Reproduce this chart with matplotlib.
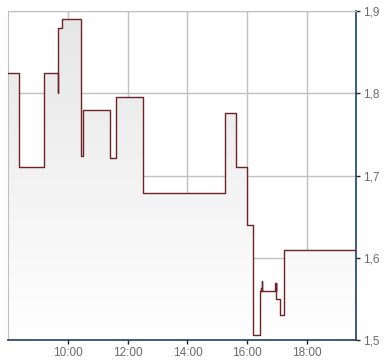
import matplotlib
matplotlib.use("Agg")
import matplotlib.pyplot as plt
import numpy as np
from matplotlib.colors import LinearSegmentedColormap

times = ["08:00", "08:23", "09:13", "09:41", "09:41", "09:49", "10:27", "10:30",
         "11:25", "11:36", "12:31", "15:15", "15:37", "16:00", "16:11", "16:25",
         "16:27", "16:28", "16:29", "16:29", "16:56", "16:57", "16:57", "16:58",
         "17:06", "17:13", "19:40"]
prices = [1.825, 1.710, 1.825, 1.800, 1.879, 1.890, 1.724, 1.780,
          1.721, 1.795, 1.679, 1.776, 1.710, 1.640, 1.506, 1.560,
          1.563, 1.560, 1.572, 1.560, 1.569, 1.560, 1.569, 1.550,
          1.531, 1.609, 1.609]
xtick_labels = ["10:00", "12:00", "14:00", "16:00", "18:00"]
ytick_values = [1.5, 1.6, 1.7, 1.8, 1.9]
ytick_labels = ["1,5", "1,6", "1,7", "1,8", "1,9"]

def to_h(s):
    h, m = s.split(":")
    return int(h) + int(m) / 60.0

x = np.array([to_h(t) for t in times])
y = np.array(prices)

W, H = 390, 364
fig = plt.figure(figsize=(W / 100, H / 100), dpi=100)
ax = fig.add_axes([8 / W, (H - 340) / H, (356 - 8) / W, (340 - 11) / H])

xmin, xmax = 8.0, to_h("19:38")
ymin, ymax = 1.5, 1.9
ax.set_xlim(xmin, xmax)
ax.set_ylim(ymin, ymax)

# gradient fill under the step line
poly = ax.fill_between(x, y, ymin, step="post", color="none", lw=0)
grad = np.linspace(0, 1, 256).reshape(-1, 1)
cmap = LinearSegmentedColormap.from_list("g", ["#e6e6e6", "#ffffff"])
im = ax.imshow(grad, extent=[xmin, xmax, ymin, ymax], origin="upper",
               aspect="auto", cmap=cmap, zorder=1)
im.set_clip_path(poly.get_paths()[0], transform=ax.transData)

ax.step(x, y, where="post", color="#6e2228", lw=1.0, zorder=3)

ax.set_xticks([to_h(t) for t in xtick_labels])
ax.set_xticklabels(xtick_labels)
ax.set_yticks(ytick_values)
ax.set_yticklabels(ytick_labels)
ax.yaxis.tick_right()
ax.grid(True, color="#c0c0c0", lw=1, zorder=0)
ax.set_axisbelow(True)

ax.tick_params(axis="both", colors="#222222", length=3, width=1,
               labelcolor="#6a6a6a", labelsize=8.5, pad=2)
for lab in ax.get_xticklabels() + ax.get_yticklabels():
    lab.set_family("Liberation Sans")

for s in ["left", "top"]:
    ax.spines[s].set_color("#c0c0c0")
for s in ["bottom", "right"]:
    ax.spines[s].set_color("#1f3d6b")
    ax.spines[s].set_linewidth(1.2)

fig.savefig("out.png", dpi=100)
